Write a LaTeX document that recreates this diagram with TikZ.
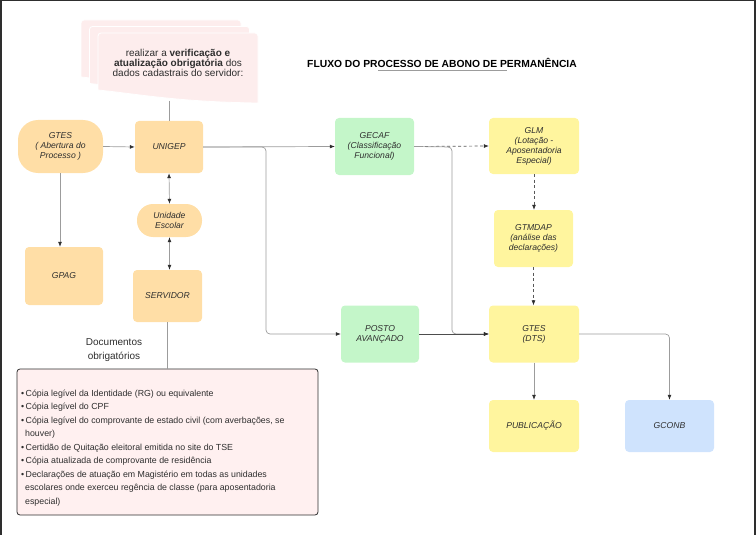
\documentclass[tikz,border=0pt]{standalone}
\usepackage{fontspec}
\setmainfont{Liberation Sans}
\usetikzlibrary{arrows.meta}
\definecolor{peach}{HTML}{FFDEA6}
\definecolor{mint}{HTML}{C4F6C9}
\definecolor{lemon}{HTML}{FFF59E}
\definecolor{sky}{HTML}{CFE3FD}
\definecolor{callpink}{HTML}{FDEDED}
\definecolor{docpink}{HTML}{FFF0F0}
\definecolor{txt}{HTML}{2E2E2E}
\definecolor{wire}{HTML}{9C9C9C}
\begin{document}
\begin{tikzpicture}[x=1pt,y=-1pt,
  every node/.style={font=\fontsize{8.6}{10}\selectfont\itshape, text=txt, align=center, inner sep=1pt},
  box/.style={rounded corners=4pt, draw=none},
  pill/.style={rounded corners=16pt, draw=none},
  wline/.style={draw=wire, line width=0.7pt},
  arr/.style={wline, -{Latex[length=5pt,width=4pt,color=txt]}},
  darr/.style={wline, {Latex[length=5pt,width=4pt,color=txt]}-{Latex[length=5pt,width=4pt,color=txt]}},
  dash arr/.style={draw=txt!80, line width=0.7pt, dash pattern=on 3pt off 2.5pt, -{Latex[length=5pt,width=4pt,color=txt]}},
  callout/.style={fill=callpink, draw=white, line width=0.8pt}]
\useasboundingbox (0,0) rectangle (756,535);
% frame
\draw[txt, line width=1.5pt] (1,535) -- (1,0.75) -- (754.8,0.75) -- (754.8,535);
% callout sheets
\foreach \o in {0,1,2} {
  \path[callout, rounded corners=3pt] ({81+8.5*\o},{77+6.5*\o}) -- ({81+8.5*\o},{20+6.5*\o}) -- ({241+8.5*\o},{20+6.5*\o}) [sharp corners] -- ({241+8.5*\o},{90+6.5*\o})
    .. controls ({161+8.5*\o},{89+6.5*\o}) and ({121+8.5*\o},{81+6.5*\o}) .. cycle;
}
\node[font=\fontsize{10}{10}\selectfont] (CALL) at (178,63) {realizar a \textbf{verificação e}\\\textbf{atualização obrigatória} dos\\dados cadastrais do servidor:};
\coordinate (CALLB) at (169,101);
% title
\node[font=\fontsize{10.3}{11}\selectfont\bfseries, text=black] (TITLE) at (442,63) {FLUXO DO PROCESSO DE ABONO DE PERMANÊNCIA};
\draw[wire, line width=0.6pt] (378,70.5) -- (507,70.5);
% nodes
\node[pill, fill=peach, minimum width=85pt, minimum height=53pt, rounded corners=20pt] (GTES1) at (60.5,146.5) {GTES\\( Abertura do\\Processo )};
\node[box, fill=peach, minimum width=68pt, minimum height=52pt] (UNIGEP) at (169,147) {UNIGEP};
\node[pill, fill=peach, minimum width=65pt, minimum height=33pt] (UNID) at (169.5,220.5) {Unidade\\Escolar};
\node[box, fill=peach, minimum width=78pt, minimum height=58pt] (GPAG) at (64,276) {GPAG};
\node[box, fill=peach, minimum width=69pt, minimum height=52pt] (SERV) at (167.5,296) {SERVIDOR};
\node[box, fill=mint, minimum width=79pt, minimum height=57pt] (GECAF) at (374.5,146.5) {GECAF\\(Classificação\\Funcional)};
\node[box, fill=mint, minimum width=78pt, minimum height=57pt] (POSTO) at (380,334) {POSTO\\AVANÇADO};
\node[box, fill=lemon, minimum width=90pt, minimum height=56pt] (GLM) at (534,146) {GLM\\(Lotação -\\Aposentadoria\\Especial)};
\node[box, fill=lemon, minimum width=79pt, minimum height=57pt] (GTMDAP) at (533.5,238.5) {GTMDAP\\(análise das\\declarações)};
\node[box, fill=lemon, minimum width=90pt, minimum height=57pt] (GTES2) at (534,334) {GTES\\(DTS)};
\node[box, fill=lemon, minimum width=90pt, minimum height=52pt] (PUBL) at (534,426) {PUBLICAÇÃO};
\node[box, fill=sky, minimum width=89pt, minimum height=52pt] (GCONB) at (669.5,426) {GCONB};
% documents
\node[font=\fontsize{10}{14}\selectfont] (DOCLBL) at (114,350) {Documentos\\obrigatórios};
\node[draw=txt, fill=docpink, line width=0.8pt, rounded corners=3pt, minimum width=301pt, minimum height=146pt] (DOCS) at (167.5,442) {};
\node[font=\fontsize{8.8}{13.5}\selectfont, align=left, anchor=north west, inner sep=0pt] (DOCTXT) at (21,389.5) {%
•\,Cópia legível da Identidade (RG) ou equivalente\\
•\,Cópia legível do CPF\\
•\,Cópia legível do comprovante de estado civil (com averbações, se\\
\hspace*{4pt}houver)\\
•\,Certidão de Quitação eleitoral emitida no site do TSE\\
•\,Cópia atualizada de comprovante de residência\\
•\,Declarações de atuação em Magistério em todas as unidades\\
\hspace*{4pt}escolares onde exerceu regência de classe (para aposentadoria\\
\hspace*{4pt}especial)};
% connectors
\coordinate (SPLIT1) at (266,147);
\coordinate (SPLIT2) at (452,147);
\draw[wline] (CALLB) -- (UNIGEP.north);
\draw[arr] (GTES1.east) -- (UNIGEP.west);
\draw[arr] (GTES1.south -| 60,0) -- (60,0 |- GPAG.north);
\draw[darr] (UNIGEP.south) -- (UNID.north);
\draw[darr] (UNID.south) -- (UNID.south |- SERV.north);
\draw[wline] (SERV.south) -- (SERV.south |- DOCS.north);
\draw[arr] (UNIGEP.east) -- (GECAF.west);
\draw[arr, rounded corners=4pt] (UNIGEP.east) -- (SPLIT1) |- (POSTO.west);
\draw[dash arr] (GECAF.east) -- (GLM.west);
\draw[arr, rounded corners=4pt] (GECAF.east) -- (SPLIT2) |- (GTES2.west);
\draw[arr, draw=txt!85] (POSTO.east) -- (GTES2.west);
\draw[dash arr] (GLM.south) -- (GLM.south |- GTMDAP.north);
\draw[dash arr] (GTMDAP.south) -- (GTMDAP.south |- GTES2.north);
\draw[arr] (GTES2.south) -- (PUBL.north);
\draw[arr, rounded corners=4pt] (GTES2.east) -| (GCONB.north);
\end{tikzpicture}
\end{document}
